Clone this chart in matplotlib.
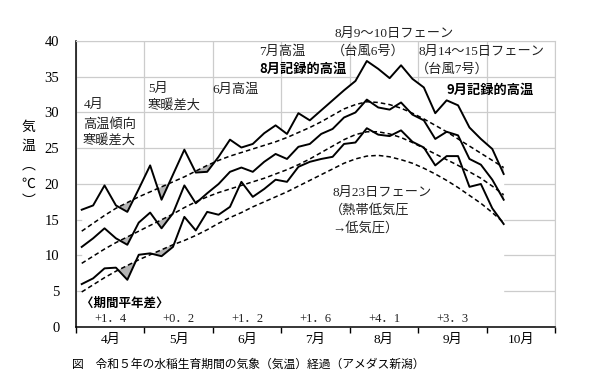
import numpy as np
import matplotlib.pyplot as plt

# 半旬ごとの気温（4月第1半旬～10月第2半旬）
tmax = [16.4, 17.0, 19.8, 17.0, 16.1, 19.3, 22.6, 17.8, 21.3, 24.8,
        21.6, 21.7, 23.8, 26.2, 25.1, 25.6, 27.1, 28.2, 27.0, 29.9,
        28.9, 30.3, 31.7, 33.1, 34.4, 37.2, 36.1, 34.8, 36.6, 34.7,
        33.5, 29.9, 31.7, 31.0, 27.9, 26.3, 24.9, 21.4]
tmean = [11.2, 12.4, 13.8, 12.4, 11.5, 14.6, 16.0, 13.8, 15.9, 19.8,
         17.3, 18.7, 20.0, 21.7, 22.3, 21.7, 23.1, 24.2, 23.5, 25.2,
         25.6, 27.0, 27.7, 29.3, 30.0, 31.8, 30.7, 30.4, 31.4, 29.7,
         28.9, 26.3, 27.3, 26.8, 23.5, 22.7, 20.6, 17.8]
tmin = [6.0, 6.8, 8.2, 8.3, 6.6, 10.1, 10.3, 9.9, 11.2, 15.4,
        13.5, 16.1, 15.7, 16.8, 20.3, 18.2, 19.3, 20.6, 20.3, 22.4,
        23.1, 23.5, 23.8, 25.6, 25.8, 27.8, 26.9, 26.7, 27.5, 25.9,
        25.1, 22.6, 23.9, 23.9, 19.6, 20.0, 16.6, 14.4]

# 平年値
nmax = [13.4, 14.5, 15.6, 16.6, 17.4, 18.2, 18.9, 19.6, 20.3, 21.0,
        21.8, 22.6, 23.3, 23.9, 24.4, 24.9, 25.4, 25.9, 26.5, 27.2,
        27.9, 28.7, 29.6, 30.5, 31.1, 31.5, 31.4, 31.1, 30.6, 29.9,
        29.1, 28.2, 27.3, 26.3, 25.3, 24.3, 23.3, 22.3]
nmean = [8.9, 9.9, 10.9, 11.8, 12.6, 13.4, 14.2, 15.0, 15.8, 16.7,
         17.5, 18.2, 18.8, 19.3, 19.8, 20.3, 20.8, 21.4, 22.0, 22.7,
         23.5, 24.4, 25.3, 26.2, 26.9, 27.3, 27.3, 27.0, 26.5, 25.8,
         25.0, 24.2, 23.4, 22.6, 21.7, 20.8, 19.7, 18.5]
nmin = [4.9, 5.9, 6.9, 7.8, 8.6, 9.4, 10.1, 10.8, 11.5, 12.1,
        12.8, 13.6, 14.5, 15.3, 16.0, 16.8, 17.5, 18.2, 18.9, 19.7,
        20.5, 21.3, 22.1, 22.9, 23.5, 23.9, 24.0, 23.8, 23.4, 22.9,
        22.2, 21.4, 20.5, 19.5, 18.4, 17.3, 16.0, 14.6]

months = ["4月", "5月", "6月", "7月", "8月", "9月", "10月"]
diffs = ["+1．4", "+0．2", "+1．2", "+1．6", "+4．1", "+3．3"]

JP = ["Liberation Serif", "Noto Sans CJK JP"]
GO = ["Noto Sans CJK JP", "DejaVu Sans"]
plt.rcParams["font.family"] = JP

x = np.arange(len(tmax)) + 0.5  # 1半旬 = 1, 1か月 = 6

fig = plt.figure(figsize=(6, 3.91), dpi=100)
ax = fig.add_axes([0.1267, 0.1637, 0.7983, 0.7315])

ax.set_xlim(0, 42)
ax.set_ylim(0, 40)
ax.set_axisbelow(True)
ax.grid(True, color="#cccccc", lw=0.9)

# 最高気温の下は白く塗ってグリッドを隠す
ax.fill_between(x, 0, tmax, color="white", lw=0, zorder=1)

for obs, nrm in [(tmax, nmax), (tmean, nmean), (tmin, nmin)]:
    obs = np.array(obs)
    nrm = np.array(nrm)
    ax.fill_between(x, obs, nrm, where=obs < nrm, interpolate=True,
                    color="#b3b3b3", lw=0, zorder=2)
    ax.plot(x, nrm, color="black", lw=1.1, ls=(0, (3, 2)), zorder=3)
    ax.plot(x, obs, color="black", lw=1.4, zorder=4)

ax.set_xticks(np.arange(0, 43, 6))
ax.set_xticklabels([])
ax.set_xticks(np.arange(3, 42, 6), minor=True)
ax.set_xticklabels(months, minor=True, fontsize=9.5)
ax.tick_params(axis="x", which="major", direction="out", length=4, width=1)
ax.tick_params(axis="x", which="minor", length=0, pad=5)
ax.set_yticks(np.arange(0, 41, 5))
ax.tick_params(axis="y", length=0, pad=12, labelsize=10.5)

for s in ["top", "right"]:
    ax.spines[s].set_color("#cccccc")
for s in ["left", "bottom"]:
    ax.spines[s].set_color("black")
    ax.spines[s].set_linewidth(1.1)

fs = 9.5
notes = [
    (0.7, 31.1, "4月"), (0.6, 28.3, "高温傾向"), (0.6, 26.1, "寒暖差大"),
    (6.3, 33.3, "5月"), (6.3, 31.0, "寒暖差大"),
    (12.0, 33.2, "6月高温"),
    (16.05, 38.5, "7月高温"),
    (22.7, 41.0, "8月9～10日フェーン"), (22.4, 38.5, "（台風6号）"),
    (30.0, 38.5, "8月14～15日フェーン"), (29.8, 36.0, "（台風7号）"),
    (22.5, 18.8, "8月23日フェーン"), (22.3, 16.3, "（熱帯低気圧"),
    (22.5, 13.8, "→低気圧）"),
]
for nx, ny, t in notes:
    ax.text(nx, ny, t, fontsize=fs, ha="left", va="center", zorder=5,
            color="#222222")

ax.text(16.05, 36.1, "8月記録的高温", family=GO, weight="bold", fontsize=fs,
        ha="left", va="center", zorder=5)
ax.text(32.5, 33.2, "9月記録的高温", family=GO, weight="bold", fontsize=fs,
        ha="left", va="center", zorder=5)
ax.text(0.4, 3.35, "〈期間平年差〉", family=GO, weight="bold", fontsize=9,
        ha="left", va="center", zorder=5)
for i, d in enumerate(diffs):
    ax.text(3 + 6 * i, 1.1, d, fontsize=9, ha="center", va="center",
            zorder=5, color="#222222")

# 縦書きの軸ラベル
for ch, py in zip(["気", "温", "︵", "℃", "︶"], [127, 146, 165, 184, 201]):
    fig.text(0.047, 1 - py / 391, ch, family=GO, fontsize=10,
             ha="center", va="center")

fig.text(0.12, 1 - 365 / 391,
         "図　令和５年の水稲生育期間の気象（気温）経過（アメダス新潟）",
         fontsize=8.5, ha="left", va="center")

fig.savefig("out.png", dpi=100)
